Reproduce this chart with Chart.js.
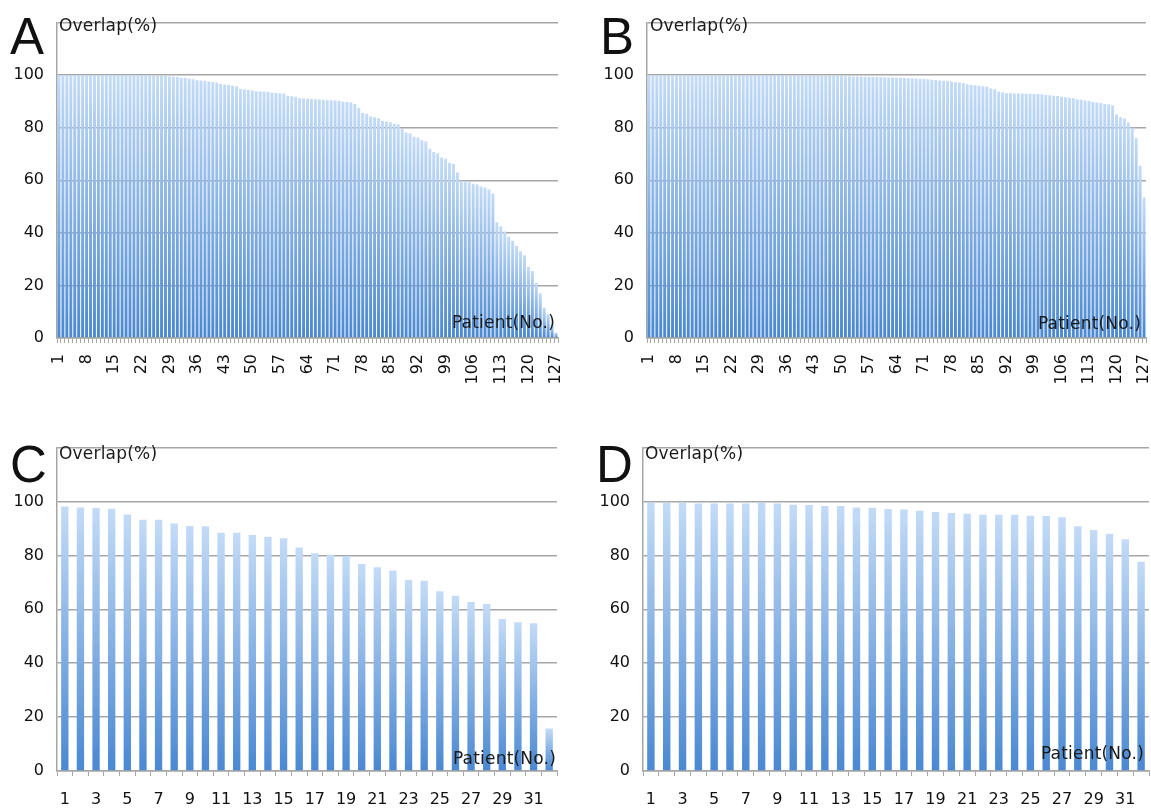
<!DOCTYPE html>
<html>
<head>
<meta charset="utf-8">
<script src="https://cdn.jsdelivr.net/npm/chart.js@4"></script>
<style>
  body { margin: 0; background: #fff; }
  #page { position: relative; width: 1151px; height: 809px; overflow: hidden; font-family: "DejaVu Sans", sans-serif; }
  .box { position: absolute; }
  .letter { position: absolute; font-family: "Liberation Sans", Arial, sans-serif; font-size: 51px; line-height: 50px; color: #111; }
  .ytitle, .xtitle { position: absolute; font-size: 17px; line-height: 16px; color: #1a1a1a; letter-spacing: 0.2px; white-space: nowrap; }
</style>
</head>
<body>
<div id="page">
  <div class="box" style="left:0;top:0"><canvas id="chartA" width="575" height="400"></canvas></div>
  <div class="box" style="left:590px;top:0"><canvas id="chartB" width="561" height="400"></canvas></div>
  <div class="box" style="left:0;top:425px"><canvas id="chartC" width="575" height="384"></canvas></div>
  <div class="box" style="left:586px;top:425px"><canvas id="chartD" width="565" height="384"></canvas></div>

  <div class="letter" style="left:10px;top:12px">A</div>
  <div class="letter" style="left:600px;top:12px">B</div>
  <div class="letter" style="left:10px;top:440px">C</div>
  <div class="letter" style="left:596px;top:440px">D</div>

  <div class="ytitle" style="left:59px;top:17px">Overlap(%)</div>
  <div class="ytitle" style="left:650px;top:17px">Overlap(%)</div>
  <div class="ytitle" style="left:59px;top:445px">Overlap(%)</div>
  <div class="ytitle" style="left:645px;top:445px">Overlap(%)</div>

  <div class="xtitle" style="right:596px;top:314px">Patient(No.)</div>
  <div class="xtitle" style="right:10px;top:315px">Patient(No.)</div>
  <div class="xtitle" style="right:595px;top:750px">Patient(No.)</div>
  <div class="xtitle" style="right:7px;top:745px">Patient(No.)</div>
</div>

<script>
// patient numbers on the category axis
const patients127 = Array.from({length: 127}, (_, i) => String(i + 1));
const patients32 = Array.from({length: 32}, (_, i) => String(i + 1));

// which patient numbers get a label
const ticks127 = [1, 8, 15, 22, 29, 36, 43, 50, 57, 64, 71, 78, 85, 92, 99, 106, 113, 120, 127];
const ticks32 = [1, 3, 5, 7, 9, 11, 13, 15, 17, 19, 21, 23, 25, 27, 29, 31];

const yTicks = [0, 20, 40, 60, 80, 100];

// overlap (%) per patient, sorted high to low
const overlapA = [
  100, 100, 100, 100, 100, 100, 100, 100, 100, 100,
  100, 100, 100, 100, 100, 100, 100, 100, 100, 100,
  100, 100, 99.9, 99.9,
  99.8, 99.8, 99.7, 99.7, 99.5, 99.4, 99.3,
  99.0, 98.9, 98.6, 98.4, 98.1, 98.0, 97.9, 97.6, 97.4, 97.2,
  96.6, 96.4, 96.3, 96.0, 95.8, 94.7, 94.5, 94.4, 94.2,
  93.9, 93.8, 93.7, 93.6, 93.3, 93.2, 93.1, 93.0, 92.2, 92.0, 91.8,
  91.2, 91.1, 91.0, 90.9, 90.8, 90.7, 90.6, 90.5, 90.5, 90.4, 90.3, 89.9, 89.8, 89.6,
  89.0, 87.5, 85.6, 85.3, 84.3, 84.0, 83.6, 82.7, 82.4, 82.1, 81.5, 81.2,
  79.6, 78.2, 77.8, 76.6, 76.3, 75.2, 74.8, 72.0, 70.8, 70.3, 68.7, 68.2, 66.6, 66.2,
  63.0, 59.8, 59.5, 59.3, 58.7, 58.4, 57.6, 57.3, 56.5, 55.0,
  44.0, 42.5, 40.5, 38.5, 37.0, 35.0, 33.0, 31.5, 27.0, 25.5, 21.0, 17.0, 11.5, 9.0, 5.0, 2.0
];

const overlapB = [
  99.9, 99.9, 99.9, 99.9, 99.9, 99.9, 99.9, 99.9, 99.9, 99.9,
  99.9, 99.9, 99.9, 99.9, 99.9, 99.9, 99.9, 99.9, 99.9, 99.9,
  99.9, 99.9, 99.9, 99.9, 99.9, 99.9, 99.9, 99.9, 99.9, 99.9,
  99.9, 99.9, 99.9, 99.9, 99.9, 99.9, 99.9, 99.9, 99.9, 99.9,
  99.8, 99.8, 99.8, 99.8, 99.8, 99.8, 99.8, 99.8, 99.8, 99.8,
  99.6, 99.6, 99.5, 99.5, 99.5, 99.4, 99.4, 99.3,
  99.3, 99.2, 99.2, 99.1, 99.1, 99.0, 99.0,
  98.9, 98.8, 98.8, 98.7, 98.6,
  98.5, 98.4, 98.3, 98.2,
  98.0, 97.9, 97.8, 97.6,
  97.3, 97.2, 97.0,
  96.5, 96.3, 96.2, 96.0,
  95.8, 95.6,
  94.9, 94.6,
  93.8, 93.4,
  93.1, 93.1, 93.0, 93.0, 93.0, 92.9, 92.9, 92.8, 92.8, 92.7,
  92.5, 92.4, 92.2, 92.1,
  91.8, 91.6, 91.4, 91.2,
  90.8, 90.6, 90.4, 90.2,
  89.8, 89.6, 89.4,
  89.0, 88.8, 88.5,
  85.0, 84.0, 83.5, 82.0, 80.0, 76.0, 65.5, 53.5
];

const overlapC = [
  98.1, 97.8, 97.6, 97.3, 95.2, 93.2, 93.2, 91.8, 90.9, 90.8,
  88.4, 88.4, 87.6, 86.9, 86.4, 82.9, 80.8, 80.2, 79.8, 76.8,
  75.6, 74.4, 70.9, 70.6, 66.7, 65.0, 62.7, 62.0, 56.4, 55.2,
  54.8, 15.8
];

const overlapD = [
  99.6, 99.6, 99.6, 99.3, 99.3, 99.3, 99.3, 99.5, 99.3, 98.8,
  98.7, 98.3, 98.3, 97.8, 97.7, 97.2, 97.0, 96.6, 96.1, 95.7,
  95.5, 95.1, 95.1, 95.1, 94.7, 94.6, 94.2, 90.8, 89.4, 88.0,
  86.0, 77.6
];


Chart.defaults.font.family = "DejaVu Sans";
Chart.defaults.color = "#111";
Chart.defaults.animation = false;

const gridColor = "#a6a6a6";


// each bar fades from light blue at its top to deeper blue at the base
function barGradient(ctx){

    const chart = ctx.chart;
    const yScale = chart.scales.y;

    if(!chart.chartArea || !yScale || ctx.raw === undefined) return "#7eaee6";

    const top = yScale.getPixelForValue(ctx.raw);
    const base = yScale.getPixelForValue(0);

    if(!isFinite(top) || !isFinite(base) || base - top < 1) return "#7eaee6";

    const g = chart.ctx.createLinearGradient(0, top, 0, base);
    g.addColorStop(0, "#c3dbf7");
    g.addColorStop(1, "#4a88d2");
    return g;
}


function makePanel(id, labels, values, shown, opt){

    const canvas = document.getElementById(id);

    return new Chart(canvas, {

        type: "bar",

        data: {
            labels: labels,
            datasets: [
                {
                    data: values,
                    backgroundColor: barGradient,
                    borderWidth: 0,
                    barPercentage: opt.barPct,
                    categoryPercentage: 1
                }
            ]
        },

        options: {
            responsive: false,
            layout: {
                padding: { top: opt.top, right: opt.right, left: 0, bottom: 0 }
            },
            plugins: {
                legend: { display: false },
                tooltip: { enabled: false }
            },
            scales: {
                x: {
                    offset: true,
                    grid: {
                        offset: true,
                        drawOnChartArea: false,
                        drawTicks: true,
                        tickLength: 5,
                        color: gridColor,
                        lineWidth: 1
                    },
                    border: { color: gridColor, width: 1.5 },
                    ticks: {
                        autoSkip: false,
                        minRotation: opt.rotate,
                        maxRotation: opt.rotate,
                        padding: opt.labelPad,
                        font: { size: 16 },
                        color: "#111",
                        callback: function(v, i){
                            const n = Number(labels[i]);
                            return shown.includes(n) ? labels[i] : "";
                        }
                    },
                    afterFit: function(scale){
                        scale.height = opt.xHeight;
                        // keep the plot width fixed, labels may hang over
                        scale.paddingLeft = 0;
                        scale.paddingRight = 0;
                    }
                },
                y: {
                    min: 0,
                    max: 120,
                    grid: {
                        drawTicks: false,
                        color: gridColor,
                        lineWidth: 1.5
                    },
                    border: { color: gridColor, width: 1.5 },
                    ticks: {
                        stepSize: 20,
                        padding: 13,
                        font: { size: 16 },
                        color: "#111",
                        callback: function(v){
                            return yTicks.includes(v) ? v : "";
                        }
                    },
                    afterFit: function(scale){ scale.width = 57; }
                }
            }
        }
    });
}


makePanel("chartA", patients127, overlapA, ticks127,
    { barPct: 0.74, top: 13, right: 17, xHeight: 62, rotate: 90, labelPad: 11 });

makePanel("chartB", patients127, overlapB, ticks127,
    { barPct: 0.74, top: 14, right: 5, xHeight: 62, rotate: 90, labelPad: 11 });

makePanel("chartC", patients32, overlapC, ticks32,
    { barPct: 0.47, top: 15, right: 18, xHeight: 38, rotate: 0, labelPad: 14 });

makePanel("chartD", patients32, overlapD, ticks32,
    { barPct: 0.47, top: 15, right: 2, xHeight: 38, rotate: 0, labelPad: 14 });
</script>
</body>
</html>
